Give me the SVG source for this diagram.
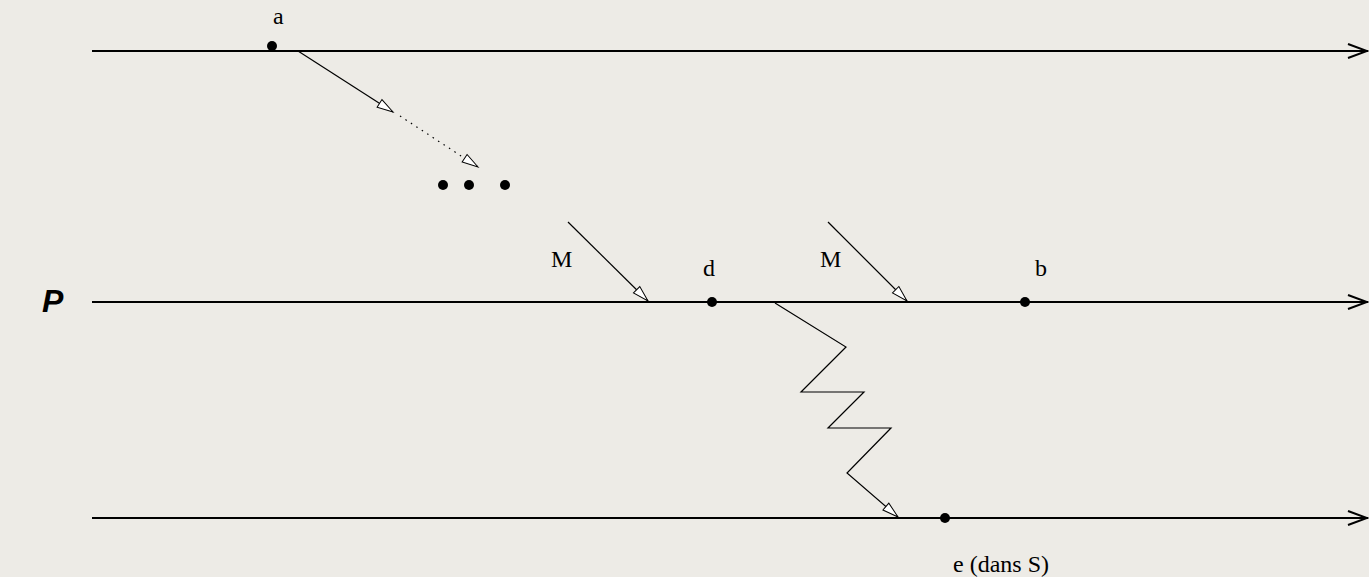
<svg xmlns="http://www.w3.org/2000/svg" width="1369" height="577" viewBox="0 0 1369 577">
<style>
.lbl{font-family:"Liberation Serif","Times New Roman",serif;font-size:24px;fill:#000}
.proc{font-family:"Liberation Sans",Arial,sans-serif;font-size:32px;font-weight:bold;font-style:italic;fill:#000}
.axis{stroke:#000;stroke-width:2;fill:none}
.msg{stroke:#000;stroke-width:1.2;fill:none}
.dot{fill:#000}
</style>
<defs>
<marker id="tri" markerUnits="userSpaceOnUse" viewBox="-18 -6 20 12" refX="0" refY="0" markerWidth="20" markerHeight="12" orient="auto"><path d="M0,0 L-16,-4.5 L-16,4.5 Z" fill="#fff" stroke="#000" stroke-width="1"/></marker>
<marker id="vee" markerUnits="userSpaceOnUse" viewBox="-23 -10 25 20" refX="0" refY="0" markerWidth="25" markerHeight="20" orient="auto"><path d="M-20,-7 L-1,0 L-20,7" fill="none" stroke="#000" stroke-width="2"/></marker>
</defs>
<rect width="1369" height="577" fill="#edebe6"/>
<g id="connectors">
<line class="axis" x1="92" y1="51" x2="1368" y2="51" marker-end="url(#vee)"/>
<line class="axis" x1="92" y1="302" x2="1368" y2="302" marker-end="url(#vee)"/>
<line class="axis" x1="92" y1="518" x2="1368" y2="518" marker-end="url(#vee)"/>
<line class="msg" x1="298" y1="51" x2="393" y2="112" marker-end="url(#tri)"/>
<line class="msg" x1="400" y1="116" x2="478" y2="167" stroke-dasharray="1.5 5" marker-end="url(#tri)"/>
<line class="msg" x1="568" y1="222" x2="648" y2="301" marker-end="url(#tri)"/>
<line class="msg" x1="828" y1="222" x2="907" y2="301" marker-end="url(#tri)"/>
<polyline class="msg" points="775,303 846,347 801,392 864,392 828,428 891,428 847,473 898,517" marker-end="url(#tri)"/>
</g>
<g id="node-a"><circle class="dot" cx="272" cy="46" r="5"/><text class="lbl" x="273" y="24">a</text></g>
<g id="node-dots"><circle class="dot" cx="443" cy="185" r="5"/><circle class="dot" cx="469" cy="185" r="5"/><circle class="dot" cx="505" cy="185" r="5"/></g>
<g id="label-M1"><text class="lbl" x="551" y="267">M</text></g>
<g id="node-d"><circle class="dot" cx="712" cy="302" r="5"/><text class="lbl" x="703" y="276">d</text></g>
<g id="label-M2"><text class="lbl" x="820" y="267">M</text></g>
<g id="node-b"><circle class="dot" cx="1025" cy="302" r="5"/><text class="lbl" x="1035" y="276">b</text></g>
<g id="node-e"><circle class="dot" cx="945" cy="518" r="5"/><text class="lbl" x="953" y="572">e (dans S)</text></g>
<g id="label-P"><text class="proc" x="42" y="312">P</text></g>
</svg>
